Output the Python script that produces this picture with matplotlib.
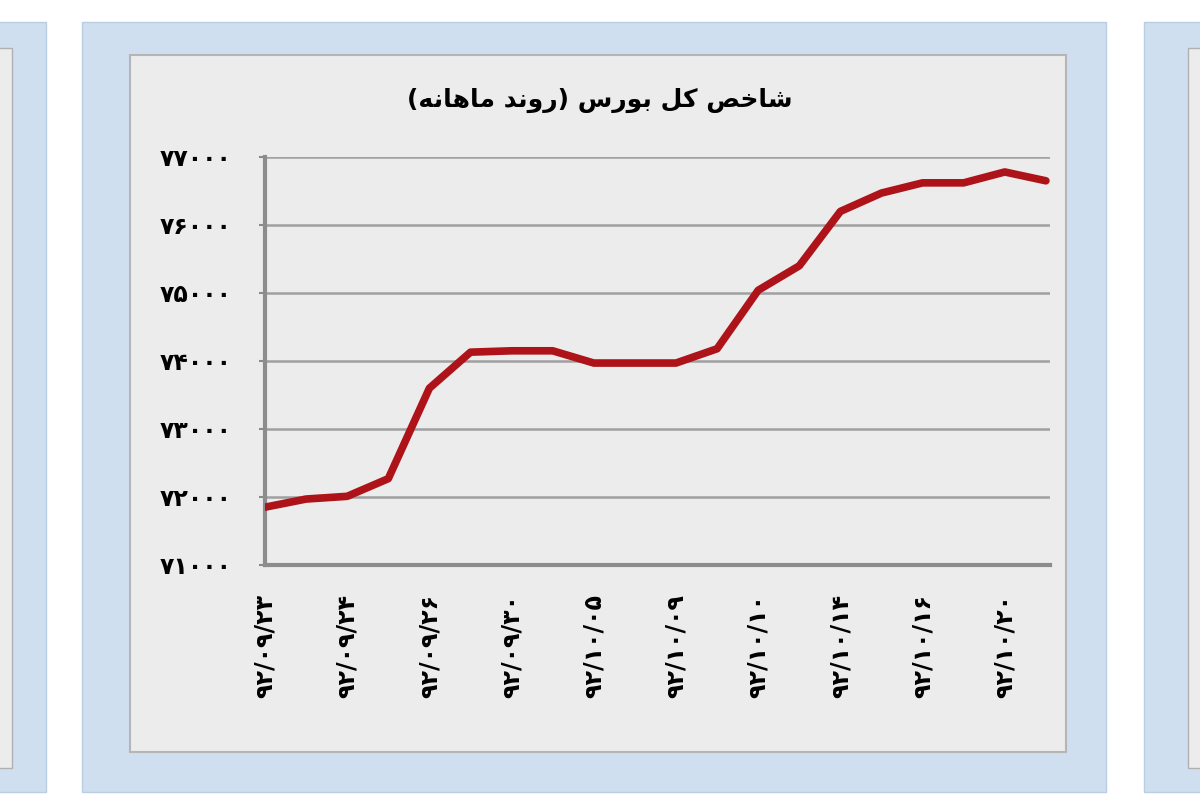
import matplotlib.pyplot as plt
from matplotlib.patches import Rectangle

# --- Data ---
title_text = "شاخص کل بورس (روند ماهانه)"

date_labels = ["۹۲/۰۹/۲۳", "۹۲/۰۹/۲۴", "۹۲/۰۹/۲۶", "۹۲/۰۹/۳۰", "۹۲/۱۰/۰۵",
               "۹۲/۱۰/۰۹", "۹۲/۱۰/۱۰", "۹۲/۱۰/۱۴", "۹۲/۱۰/۱۶", "۹۲/۱۰/۲۰"]

index_values = [71850, 71970, 72010, 72270, 73600, 74130, 74150, 74150, 73970, 73970,
                73970, 74180, 75040, 75400, 76200, 76470, 76620, 76620, 76780, 76650]

y_ticks = [71000, 72000, 73000, 74000, 75000, 76000, 77000]


# --- Minimal Arabic/Persian shaping (no bidi libs available) ---
# forms: (isolated, final, initial, medial)
FORMS = {
    'ا': ('\uFE8D', '\uFE8E', None, None),
    'ب': ('\uFE8F', '\uFE90', '\uFE91', '\uFE92'),
    'خ': ('\uFEA5', '\uFEA6', '\uFEA7', '\uFEA8'),
    'د': ('\uFEA9', '\uFEAA', None, None),
    'ر': ('\uFEAD', '\uFEAE', None, None),
    'س': ('\uFEB1', '\uFEB2', '\uFEB3', '\uFEB4'),
    'ش': ('\uFEB5', '\uFEB6', '\uFEB7', '\uFEB8'),
    'ص': ('\uFEB9', '\uFEBA', '\uFEBB', '\uFEBC'),
    'ل': ('\uFEDD', '\uFEDE', '\uFEDF', '\uFEE0'),
    'م': ('\uFEE1', '\uFEE2', '\uFEE3', '\uFEE4'),
    'ن': ('\uFEE5', '\uFEE6', '\uFEE7', '\uFEE8'),
    'ه': ('\uFEE9', '\uFEEA', '\uFEEB', '\uFEEC'),
    'و': ('\uFEED', '\uFEEE', None, None),
    'ک': ('\uFB8E', '\uFB8F', '\uFB90', '\uFB91'),
}


def shape_rtl(text):
    out = []
    for i, ch in enumerate(text):
        if ch not in FORMS:
            out.append(ch)
            continue
        prev = text[i - 1] if i > 0 else ''
        nxt = text[i + 1] if i + 1 < len(text) else ''
        join_prev = prev in FORMS and FORMS[prev][2] is not None
        join_next = nxt in FORMS and FORMS[ch][2] is not None
        iso, fin, ini, med = FORMS[ch]
        if join_prev and join_next:
            out.append(med)
        elif join_prev:
            out.append(fin)
        elif join_next:
            out.append(ini)
        else:
            out.append(iso)
    mirror = {'(': ')', ')': '('}
    return ''.join(mirror.get(c, c) for c in reversed(out))


def fa_num(n):
    return str(n).translate(str.maketrans('0123456789', '۰۱۲۳۴۵۶۷۸۹'))


# --- Figure with panels ---
fig = plt.figure(figsize=(12, 8), dpi=100)
fig.patch.set_facecolor('white')

W, H = 1200, 800


def px_rect(x0, y0, x1, y1, **kw):
    fig.patches.append(Rectangle((x0 / W, 1 - y1 / H), (x1 - x0) / W, (y1 - y0) / H,
                                 transform=fig.transFigure, zorder=-5, **kw))


blue = '#cfdff0'
panel = '#ececec'
# side panels cut off at the edges
px_rect(-5, 22, 46, 792, facecolor=blue, edgecolor='#b9cde3', lw=1)
px_rect(-5, 48, 12, 768, facecolor=panel, edgecolor='#b0b0b0', lw=1)
px_rect(1144, 22, 1210, 792, facecolor=blue, edgecolor='#b9cde3', lw=1)
px_rect(1188, 48, 1210, 768, facecolor=panel, edgecolor='#b0b0b0', lw=1)
# main panel
px_rect(82, 22, 1106, 792, facecolor=blue, edgecolor='#b9cde3', lw=1)
px_rect(130, 55, 1066, 752, facecolor=panel, edgecolor='#b5b5b5', lw=1.5)

# --- Plot ---
ax = fig.add_axes([265 / W, 1 - 565 / H, (1050 - 265) / W, (565 - 157) / H])
ax.set_facecolor(panel)

x = list(range(len(index_values)))
ax.plot(x, index_values, color='#ad1319', lw=5.5, solid_joinstyle='round',
        solid_capstyle='round', zorder=3)

ax.set_ylim(71000, 77000)
ax.set_xlim(0, len(index_values) - 0.9)
ax.set_yticks(y_ticks)
ax.set_yticklabels([fa_num(v) for v in y_ticks], fontsize=17, fontweight='bold',
                   family='DejaVu Sans')
ax.yaxis.grid(True, color='#a0a0a0', lw=1.8)
ax.set_axisbelow(True)

ax.set_xticks(x[::2])
ax.set_xticklabels(date_labels, rotation=90, fontsize=17, fontweight='bold',
                   family='DejaVu Sans', va='top')

ax.tick_params(axis='y', length=4, width=1.5, color='#8a8a8a', pad=20)
ax.tick_params(axis='x', length=0, pad=21)

for side in ['top', 'right']:
    ax.spines[side].set_visible(False)
for side in ['left', 'bottom']:
    ax.spines[side].set_color('#8c8c8c')
    ax.spines[side].set_linewidth(3)

fig.text(600 / W, 1 - 100 / H, shape_rtl(title_text), ha='center', va='center',
         fontsize=18, fontweight='bold', family='DejaVu Sans')

fig.savefig('out.png', dpi=100)
